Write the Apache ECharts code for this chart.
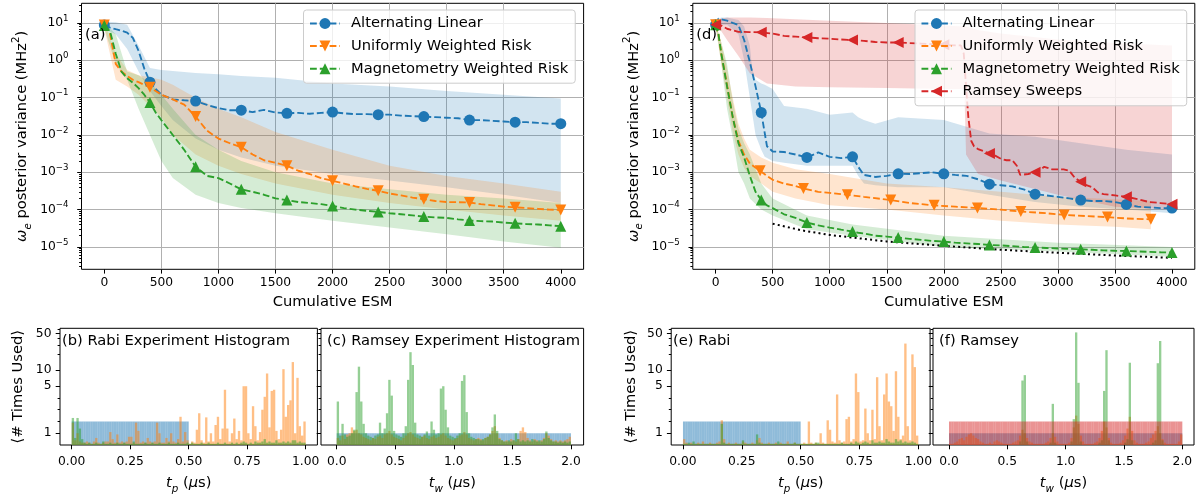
<!DOCTYPE html>
<html><head><meta charset="utf-8">
<script src="https://cdn.jsdelivr.net/npm/echarts@6/dist/echarts.min.js"></script>
<style>html,body{margin:0;padding:0;background:#fff}#c{width:1204px;height:499px}</style>
</head><body><div id="c"></div>
<script>
// ================= DATA =================
// ---- panel (a) ----
const esmA = [0,50,100,150,200,250,300,350,400,450,500,600,700,800,900,1000,1100,1200,1300,1400,1500,1600,1700,1800,1900,2000,2100,2200,2300,2400,2500,2600,2700,2800,2900,3000,3100,3200,3300,3400,3500,3600,3700,3800,3900,4000];
const altLinA = [8.8,7.5,6.8,6.2,5.5,4.0,1.8,0.6,0.26,0.17,0.12,0.09,0.085,0.081,0.064,0.052,0.046,0.046,0.041,0.047,0.040,0.038,0.039,0.037,0.039,0.041,0.038,0.036,0.036,0.035,0.035,0.033,0.032,0.031,0.030,0.029,0.028,0.025,0.025,0.024,0.023,0.022,0.022,0.021,0.020,0.020];
const uniA = [8.8,5,0.8,0.5,0.38,0.3,0.26,0.22,0.19,0.15,0.12,0.09,0.065,0.031,0.013,0.008,0.006,0.0047,0.003,0.0021,0.0018,0.0015,0.0011,0.0009,0.0007,0.00059,0.0005,0.00042,0.00036,0.00032,0.00027,0.00024,0.00021,0.00019,0.00017,0.00016,0.000158,0.000155,0.00014,0.00013,0.00012,0.000115,0.00011,0.000105,0.0001,0.000098];
const magA = [8.5,6,1.5,0.5,0.33,0.25,0.18,0.12,0.074,0.04,0.025,0.01,0.004,0.0014,0.0008,0.0007,0.0005,0.00035,0.0003,0.00025,0.0002,0.00018,0.00016,0.00015,0.00014,0.000126,0.00011,0.0001,0.000093,0.000087,0.00008,0.000075,0.00007,0.000065,0.000062,0.00006,0.000055,0.000051,0.000049,0.000048,0.000045,0.000043,0.000041,0.00004,0.000038,0.000036];
const bandEsmA = [0,100,200,300,400,500,600,800,1000,1200,1500,2000,2500,3000,3500,4000];
const altLinLoA = [7,5,2,0.5,0.15,0.06,0.025,0.008,0.004,0.0025,0.0015,0.0009,0.0006,0.0004,0.00025,0.00015];
const altLinHiA = [11,10.5,9,2.5,0.62,0.55,0.52,0.46,0.42,0.38,0.34,0.24,0.2,0.15,0.12,0.095];
const uniLoA = [7,0.3,0.2,0.12,0.06,0.03,0.01,0.003,0.0015,0.0009,0.0005,0.00025,0.00015,0.0001,0.00007,0.00005];
const uniHiA = [10,1.5,0.55,0.4,0.35,0.3,0.22,0.1,0.05,0.03,0.012,0.004,0.0015,0.0008,0.0005,0.0003];
const magLoA = [7,0.8,0.3,0.05,0.01,0.002,0.0007,0.00025,0.00015,0.00011,0.00008,0.00005,0.000033,0.000022,0.000014,0.0000095];
const magHiA = [10,5,0.5,0.4,0.25,0.12,0.05,0.01,0.004,0.002,0.001,0.0005,0.00035,0.00025,0.0002,0.00015];

// ---- panel (d) ----
const esmD = [0,25,50,100,150,200,250,300,350,400,450,500,600,700,800,900,1000,1100,1200,1250,1300,1400,1500,1600,1700,1800,1900,2000,2100,2200,2300,2400,2500,2600,2700,2800,2900,3000,3100,3200,3300,3400,3500,3600,3700,3800,3900,4000];
const altLinD = [9,13,12.5,11.5,10,8.8,3.5,0.9,0.2,0.04,0.005,0.0036,0.0035,0.003,0.0025,0.0034,0.0026,0.0024,0.0026,0.0014,0.00085,0.00075,0.0008,0.00091,0.0009,0.00095,0.001,0.00091,0.00085,0.0008,0.00065,0.00048,0.00045,0.00042,0.00035,0.00026,0.00024,0.00022,0.0002,0.00018,0.00017,0.00017,0.00016,0.000138,0.00012,0.000115,0.00011,0.00011];
const magD = [9,5,1.5,0.2,0.03,0.006,0.0025,0.0008,0.0003,0.00018,0.00013,0.00011,0.000075,0.00006,0.000045,0.000038,0.000033,0.000029,0.000026,0.000024,0.000023,0.00002,0.000019,0.0000178,0.0000165,0.0000155,0.0000145,0.0000139,0.000013,0.0000125,0.000012,0.0000113,0.000011,0.0000105,0.00001,0.0000097,0.0000094,0.0000091,0.0000089,0.0000087,0.0000084,0.0000081,0.0000079,0.0000078,0.0000076,0.0000074,0.0000072,0.0000071];
const esmUniD = [0,25,50,100,150,200,250,300,390,450,500,600,700,770,900,1000,1155,1300,1535,1700,1915,2100,2295,2500,2675,2900,3055,3250,3435,3600,3815];
const uniD = [9,5,1.5,0.22,0.03,0.007,0.003,0.0017,0.0011,0.0008,0.00063,0.0005,0.00043,0.00037,0.0003,0.00028,0.00025,0.00022,0.00018,0.00015,0.00013,0.00012,0.00011,0.0001,0.000089,0.00008,0.000072,0.000067,0.000063,0.000058,0.000055];
const esmRamD = [0,50,100,200,300,400,500,600,700,800,900,1000,1100,1200,1300,1400,1500,1600,1700,1800,1900,2000,2100,2150,2175,2195,2215,2240,2265,2300,2400,2450,2500,2550,2600,2640,2670,2740,2800,2850,2880,2950,3000,3050,3100,3150,3200,3250,3300,3350,3400,3500,3600,3700,3800,3900,4000];
const ramseyD = [9,8.5,7,5.8,5.7,5.6,5.2,4.5,4.3,4.1,3.9,3.8,3.6,3.5,3.3,3.1,3.0,3.0,2.9,2.8,2.7,2.6,2.5,2.5,1.5,0.2,0.03,0.007,0.005,0.0042,0.0032,0.0028,0.0023,0.0021,0.0021,0.0015,0.00085,0.0009,0.001,0.0012,0.0014,0.0012,0.0012,0.0012,0.0011,0.0007,0.00056,0.00045,0.0004,0.00029,0.00026,0.00024,0.00022,0.00019,0.00016,0.00015,0.00014];
const esmAltBandD = [0,50,100,200,250,300,320,350,400,430,500,600,800,1000,1200,1250,1300,1400,1600,2000,2400,2800,3200,3600,4000];
const altLinHiD = [12,14,14,12,8,2.5,0.6,0.3,0.24,0.22,0.17,0.06,0.05,0.035,0.04,0.03,0.025,0.02,0.03,0.025,0.011,0.009,0.006,0.004,0.003];
const altLinLoD = [8,9,9,5,1.0,0.1,0.04,0.01,0.004,0.0026,0.002,0.0018,0.0015,0.0015,0.0015,0.0008,0.0005,0.00045,0.0004,0.0004,0.00025,0.00016,0.00012,0.0001,0.00008];
const esmUniBandD = [0,50,100,150,200,250,300,400,500,700,1000,1500,2000,2500,3000,3500,3815];
const uniHiD = [10,3,0.6,0.1,0.02,0.008,0.004,0.0025,0.0018,0.0012,0.0009,0.0005,0.0004,0.0003,0.00022,0.00019,0.00017];
const uniLoD = [8,0.8,0.1,0.012,0.003,0.0013,0.0008,0.0005,0.0003,0.0002,0.00013,0.0001,0.00007,0.00005,0.00004,0.000035,0.00003];
const esmMagBandD = [0,50,100,150,200,250,300,400,500,800,1200,2000,3000,4000];
const magHiD = [10,3,0.8,0.08,0.015,0.006,0.003,0.0005,0.0002,0.00007,0.00004,0.00002,0.000013,0.00001];
const magLoD = [8,0.8,0.05,0.008,0.001,0.0005,0.0002,0.0001,0.00007,0.00003,0.00002,0.00001,0.0000075,0.0000055];
const esmRamBandD = [0,50,100,200,300,450,700,1000,1500,2000,2180,2195,2300,2500,3000,3500,4000];
const ramseyHiD = [10,13,14,14,14,13.5,12.5,11.5,10,8.5,8,8,6.5,5.2,3.6,2.9,2.5];
const ramseyLoD = [8,6,3.5,1.3,0.45,0.24,0.2,0.19,0.18,0.17,0.17,0.003,0.0009,0.0006,0.00025,0.00012,0.0001];
const boundEsm = [500,750,1000,1500,2000,2500,3000,3500,4000];
const boundD = [4.2e-5,2.8e-5,2.1e-5,1.4e-5,1.07e-5,8.4e-6,7e-6,5.9e-6,5.1e-6];

const markEvery400 = [0,400,800,1200,1600,2000,2400,2800,3200,3600,4000];
const uniMarksD = [0,390,770,1155,1535,1915,2295,2675,3055,3435,3815];
const esmTicks = [0,500,1000,1500,2000,2500,3000,3500,4000];

// ---- histograms: Rabi bins of 0.01 on [0,1], Ramsey bins of 0.02 on [0,2] ----
const rabiBlueB = [2,2,2,2,2,2,2,2,2,2,2,2,2,2,2,2,2,2,2,2,2,2,2,2,2,2,2,2,2,2,2,2,2,2,2,2,2,2,2,2,2,2,2,2,2,2,2,2,2,2];
const rabiOrangeB = [1.9,0.4,1.0,0.3,0.2,0.2,0.3,0.2,0.1,0.3,0.6,0.2,0.1,0.2,0.3,0.3,1.1,0.5,0.2,0.9,0.2,0.3,0.2,0.3,0.7,0.7,0.2,1.9,1.2,0.2,0.3,0.2,0.6,0.3,0.2,0.3,1.9,1.0,0.2,0.2,0.6,0.3,1.0,0.3,0.2,0.5,2.4,0.3,1.1,0.4,
  0.1,0.3,0.2,1.3,2.7,0.4,0.2,2.35,0.3,1.0,0.3,1.7,2.4,0.5,1.4,4.7,1.4,0.3,1.0,2.25,0.5,1.2,0.4,5.0,5.0,1.0,0.5,3.3,1.6,0.4,1.1,3.0,4.1,8.7,1.5,4.6,4.7,1.2,0.5,1.3,10.5,2.4,3.4,3.8,14.3,1.0,7.2,1.6,0.8,2.0];
const rabiGreenB = [2.3,0.6,2.3,1.4,0.5,0.2,0.1,0.2,0.1,0.1,0.2,0.1,0.1,0.3,0.1,0.1,0.2,0.1,0.1,0.2,0.1,0.1,0.2,0.1,0.1,0.1,0.3,0.1,0.1,0.1,0.1,0.2,0.1,0.1,0.2,0.1,0.1,0.2,0.1,0.1,0.1,0.2,0.1,0.1,0.1,0.2,0.1,0.1,0.1,0.2,
  0.1,0.2,0.1,0.1,0.1,0.2,0.1,0.1,0.2,0.1,0.1,0.1,0.2,0.1,0.1,0.2,0.1,0.1,0.2,0.1,0.2,0.1,0.2,0.3,0.2,0.1,0.2,0.1,0.3,0.2,0.2,0.3,0.5,0.2,0.3,0.2,0.2,0.4,0.2,0.2,0.3,0.2,0.3,0.2,0.4,0.4,0.2,0.3,0.2,0.2];
const ramseyBlueC = [1,1,1,1,1,1,1,1,1,1,1,1,1,1,1,1,1,1,1,1,1,1,1,1,1,1,1,1,1,1,1,1,1,1,1,1,1,1,1,1,1,1,1,1,1,1,1,1,1,1,1,1,1,1,1,1,1,1,1,1,1,1,1,1,1,1,1,1,1,1,1,1,1,1,1,1,1,1,1,1,1,1,1,1,1,1,1,1,1,1,1,1,1,1,1,1,1,1,1,1];
const ramseyOrangeC = [0.6,0.4,0.8,0.5,0.9,1.0,1.5,1.2,1.3,1.0, 0.9,0.7,0.6,0.5,0.4,0.6,0.5,0.7,0.8,0.6, 0.9,1.0,1.2,0.9,0.7,0.6,0.5,0.4,0.6,0.8, 1.0,1.1,0.9,0.7,0.6,0.5,0.7,0.8,0.6,0.5, 0.7,0.8,0.6,0.7,0.9,1.0,0.8,0.6,0.5,0.4,
  0.5,0.6,0.8,0.9,1.1,0.9,0.6,0.5,0.4,0.5, 0.6,0.5,0.4,0.6,0.7,0.9,1.2,1.6,1.0,0.6, 0.4,0.3,0.4,0.3,0.5,0.4,0.3,0.5,1.2,1.5, 1.1,0.6,0.4,0.3,0.5,0.4,0.3,0.4,0.6,1.0, 0.8,0.5,0.3,0.4,0.3,0.4,0.3,0.4,0.5,0.7];
const ramseyGreenC = [3.7,0.8,1.8,0.9,0.7,0.8,1.0,1.3,4.5,11.7, 3.7,1.8,1.0,0.8,0.7,0.6,0.8,0.9,1.9,1.0, 1.4,2.7,6.6,4.2,1.2,0.9,0.8,0.7,1.0,1.6, 6.6,22,12.6,1.9,0.9,0.8,0.7,0.9,1.15,0.8, 2.0,1.3,0.9,1.0,4.8,5.0,3.0,1.5,0.8,0.7,
  0.6,0.8,1.0,6.3,8.1,2.8,1.0,0.7,0.6,0.5, 0.5,0.4,0.5,0.6,0.7,0.9,1.5,2.6,1.2,0.5, 0.4,0.3,0.3,0.4,0.3,0.4,1.0,0.5,0.3,0.4, 0.3,0.4,0.3,0.5,0.4,0.3,0.4,0.3,0.5,1.15, 0.6,0.4,0.3,0.3,0.2,0.3,0.2,0.3,0.2,0.3];
const rabiBlueE = [2,2,2,2,2,2,2,2,2,2,2,2,2,2,2,2,2,2,2,2,2,2,2,2,2,2,2,2,2,2,2,2,2,2,2,2,2,2,2,2,2,2,2,2,2,2,2,2,2,2];
const rabiOrangeE = [0.5,0.2,0.1,0.2,0.1,0.1,0.2,0.1,0.3,0.1, 0.1,0.2,0.1,0.1,0.2,0.3,2.1,0.5,0.1,0.2, 0.1,0.1,0.2,0.1,0.1,0.3,0.2,0.1,0.1,0.2, 0.1,0.4,0.6,0.2,0.1,0.1,0.2,0.1,0.1,0.2, 0.1,0.2,0.1,0.1,0.3,0.1,0.1,0.2,0.1,0.1,
  0.1,0.2,0.1,2.0,0.2,0.1,0.2,0.1,1.0,0.2, 0.1,2.1,1.3,0.3,0.2,4.3,0.4,0.2,0.3,2.2, 2.4,0.3,0.5,8.7,4.5,0.3,0.4,3.1,1.0,0.4, 3.0,0.5,7.4,1.6,0.4,4.3,8.7,3.7,3.3,1.2, 9.6,2.4,0.5,0.8,32,1.6,0.4,20,11.5,0.8];
const rabiGreenE = [0.1,0.1,0.2,0.1,0.3,0.1,0.1,0.1,0.1,0.1, 0.1,0.1,0.1,0.1,0.1,0.1,1.8,0.2,0.1,0.1, 0.1,0.1,0.1,0.1,0.1,0.4,0.1,0.1,0.1,0.1, 0.1,0.9,0.2,0.1,0.1,0.1,0.1,0.1,0.1,0.1, 0.3,0.1,0.1,0.1,0.1,0.1,0.1,0.2,0.1,0.1,
  0.1,0.1,0.1,0.1,0.1,0.1,0.2,0.2,0.1,0.1, 0.1,0.1,0.1,0.1,0.1,0.1,0.1,0.2,0.1,0.1, 0.1,0.2,0.1,0.3,0.2,0.1,0.2,0.3,0.2,0.1, 0.4,0.2,0.2,0.3,0.2,0.2,0.5,0.3,0.2,0.2, 0.5,0.3,0.4,0.2,0.3,0.2,0.2,0.3,0.2,0.1];
const ramseyBlueF = [1,1,1,1,1,1,1,1,1,1,1,1,1,1,1,1,1,1,1,1,1,1,1,1,1,1,1,1,1,1,1,1,1,1,1,1,1,1,1,1,1,1,1,1,1,1,1,1,1,1,1,1,1,1,1,1,1,1,1,1,1,1,1,1,1,1,1,1,1,1,1,1,1,1,1,1,1,1,1,1,1,1,1,1,1,1,1,1,1,1,1,1,1,1,1,1,1,1,1,1];
const ramseyOrangeF = [0.1,0.1,0.2,0.3,0.5,0.6,0.4,0.7,0.9,1.0, 0.8,0.6,0.5,0.3,0.2,0.1,0.1,0.2,0.1,0.3, 0.4,0.3,0.2,0.1,0.1,0.1,0.1,0.2,0.3,0.4, 0.8,1.3,1.0,0.6,0.3,0.2,0.1,0.1,0.1,0.1, 0.1,0.2,0.3,0.6,1.0,0.7,0.3,0.1,0.1,0.1,
  0.1,0.2,0.6,1.5,2.5,1.8,0.8,0.3,0.1,0.1, 0.1,0.1,0.2,0.3,0.6,1.2,2.0,1.5,0.6,0.2, 0.1,0.1,0.1,0.2,0.4,0.8,1.4,2.4,1.2,0.4, 0.2,0.1,0.1,0.1,0.2,0.3,0.6,0.9,1.2,1.6, 1.0,0.5,0.2,0.1,0.1,0.1,0.1,0.1,0.3,0.9];
const ramseyGreenF = [0,0,0,0,0,0,0,0,0,0, 0,0,0,0,0,0,0,0,0,0, 0,0,0,0,0,0,0,0,0,0, 0.3,6.4,8.1,0.3,0,0,0,0,0,0, 0,0,0,0.2,3.5,0.2,0,0,0,0,
  0,0,0.3,2.2,52,5.8,0.3,0,0,0, 0,0,0,0,0.2,0.4,4.6,24,0.4,0, 0,0,0,0,0,0.2,0.5,13.9,0.4,0, 0,0,0,0,0,0,0,0.2,0.4,13.6, 35.8,0.4,0,0,0,0,0,0,0,0];
const ramseyRedF = [2,2,2,2,2,2,2,2,2,2,2,2,2,2,2,2,2,2,2,2,2,2,2,2,2,2,2,2,2,2,2,2,2,2,2,2,2,2,2,2,2,2,2,2,2,2,2,2,2,2,2,2,2,2,2,2,2,2,2,2,2,2,2,2,2,2,2,2,2,2,2,2,2,2,2,2,2,2,2,2,2,2,2,2,2,2,2,2,2,2,2,2,2,2,2,2,2,2,2,2];

// ================= STYLE / HELPERS =================
const F = 'DejaVu Sans';
const C0 = '#1f77b4', C1 = '#ff7f0e', C2 = '#2ca02c', C3 = '#d62728';
const TK = 12.3, LB = 14.7;
const YMIN = 2.52e-6, YMAX = 33.65;
const LMIN = Math.log10(YMIN), LMAX = Math.log10(YMAX);
const majorLog = [-5,-4,-3,-2,-1,0,1];
const minorLog = [];
for (let e = -6; e <= 1; e++) for (let k = 2; k <= 9; k++) { const v = Math.log10(k) + e; if (v > LMIN && v < LMAX) minorLog.push(v); }
// symlog (linthresh 5, linscale 1) for histogram count axes
const LT = 5, LS = 1 / (1 - 1 / 10);
const symlog = v => v <= LT ? v / LT * LS : LS + Math.log10(v / LT);
const symexp = t => t <= LS ? t / LS * LT : LT * Math.pow(10, t - LS);
const HMAX = symlog(62.2);
const hMajor = [1,5,10,50].map(symlog);
const hMinor = [2,3,4,20,30,40,60].map(symlog);

const noLine = {show: false, onZero: false};
const tickLine = {color: '#000', width: 1};
const gridLine = {show: true, showMinLine: false, showMaxLine: false, lineStyle: {color: '#b0b0b0', width: 1}};
const txt = {fontFamily: F, color: '#000'};
const nameRich = {
  n: {fontFamily: F, fontSize: LB, color: '#000', lineHeight: 22},
  i: {fontFamily: F, fontSize: LB, color: '#000', lineHeight: 22, fontStyle: 'italic'},
  sb: {fontFamily: F, fontSize: 10.3, color: '#000', lineHeight: 10.3, verticalAlign: 'bottom', fontStyle: 'italic'},
  sp: {fontFamily: F, fontSize: 10.3, color: '#000', lineHeight: 10.3, verticalAlign: 'top'}
};
const powRich = {
  b: {fontFamily: F, fontSize: TK, color: '#000', lineHeight: 18},
  s: {fontFamily: F, fontSize: 8.6, color: '#000', lineHeight: 8.6, verticalAlign: 'top'}
};

const grids = [
  {left: 81.5, top: 3.3, width: 502.1, height: 266},   // (a)
  {left: 692.8, top: 3.3, width: 502, height: 266},    // (d)
  {left: 60, top: 328.3, width: 257.4, height: 116.7}, // (b)
  {left: 321, top: 328.3, width: 262.6, height: 116.7},// (c)
  {left: 671.2, top: 328.3, width: 258.9, height: 116.7}, // (e)
  {left: 933, top: 328.3, width: 261, height: 116.7}   // (f)
].map(g => Object.assign(g, {show: true, borderColor: '#000', borderWidth: 1, backgroundColor: 'transparent', containLabel: false, outerBoundsMode: 'none'}));

function topX(gi) {
  return {type: 'value', gridIndex: gi, min: -200, max: 4200, splitNumber: 9,
    name: 'Cumulative ESM', nameLocation: 'middle', nameGap: 24,
    nameTextStyle: Object.assign({fontSize: LB}, txt),
    axisLine: noLine,
    axisTick: {show: true, length: 4.3, lineStyle: tickLine, customValues: esmTicks},
    axisLabel: Object.assign({fontSize: TK, margin: 8, customValues: esmTicks, formatter: v => String(Math.round(v))}, txt),
    splitLine: gridLine};
}
function topYLog(gi) {
  return {type: 'log', logBase: 10, gridIndex: gi, min: YMIN, max: YMAX, splitNumber: 7,
    axisLine: noLine, axisTick: {show: false}, axisLabel: {show: false}, splitLine: gridLine};
}
function topYLab(gi) {
  return {type: 'value', gridIndex: gi, min: LMIN, max: LMAX, position: 'left', offset: 0,
    name: '{i|ω}{sb|e}{n| posterior variance (MHz}{sp|2}{n|)}', nameLocation: 'middle', nameGap: 48,
    nameTextStyle: {fontFamily: F, fontSize: LB, color: '#000', rich: nameRich},
    axisLine: noLine,
    axisTick: {show: true, length: 4.3, lineStyle: tickLine, customValues: majorLog},
    axisLabel: {customValues: majorLog, margin: 13, rich: powRich,
      formatter: v => { const e = Math.round(v); return '{b|10}{s|' + (e < 0 ? '\u2212' + (-e) : e) + '}'; }},
    splitLine: {show: false}};
}
function minorY(gi, lo, hi, vals) {
  return {type: 'value', gridIndex: gi, min: lo, max: hi, position: 'left', offset: 0,
    axisLine: noLine, axisTick: {show: true, length: 2.4, lineStyle: tickLine, customValues: vals},
    axisLabel: {show: false}, splitLine: {show: false}};
}
function histX(gi, lo, hi, ticks, dec, sub) {
  return {type: 'value', gridIndex: gi, min: lo, max: hi,
    name: '{i|t}{sb|' + sub + '}{n| (}{i|μ}{n|s)}', nameLocation: 'middle', nameGap: 27,
    nameTextStyle: {fontFamily: F, fontSize: LB, color: '#000', rich: nameRich},
    axisLine: noLine,
    axisTick: {show: true, length: 4.3, lineStyle: tickLine, customValues: ticks},
    axisLabel: Object.assign({fontSize: TK, margin: 11, customValues: ticks, formatter: v => v.toFixed(dec)}, txt),
    splitLine: {show: false}};
}
function histY(gi, labels) {
  return {type: 'value', gridIndex: gi, min: 0, max: HMAX, position: 'left', offset: 0,
    name: labels ? '⟨# Times Used⟩' : '', nameLocation: 'middle', nameGap: 34,
    nameTextStyle: Object.assign({fontSize: LB}, txt),
    axisLine: noLine,
    axisTick: {show: true, length: 4.3, lineStyle: tickLine, customValues: hMajor},
    axisLabel: Object.assign({show: labels, fontSize: TK, margin: 8.5, customValues: hMajor,
      formatter: v => String(Math.round(symexp(v)))}, txt),
    splitLine: {show: false}};
}

const xAxis = [topX(0), topX(1),
  histX(2, -0.05, 1.05, [0, 0.25, 0.5, 0.75, 1], 2, 'p'),
  histX(3, -0.134, 2.108, [0, 0.5, 1, 1.5, 2], 1, 'w'),
  histX(4, -0.05, 1.05, [0, 0.25, 0.5, 0.75, 1], 2, 'p'),
  histX(5, -0.137, 2.1, [0, 0.5, 1, 1.5, 2], 1, 'w')];
const yAxis = [topYLog(0), topYLab(0), minorY(0, LMIN, LMAX, minorLog),
  topYLog(1), topYLab(1), minorY(1, LMIN, LMAX, minorLog),
  histY(2, true), minorY(2, 0, HMAX, hMinor),
  histY(3, false), minorY(3, 0, HMAX, hMinor),
  histY(4, true), minorY(4, 0, HMAX, hMinor),
  histY(5, false), minorY(5, 0, HMAX, hMinor)];
yAxis[10].nameGap = 33;

function band(xs, lo, hi, color, xi, yi) {
  return {type: 'custom', xAxisIndex: xi, yAxisIndex: yi, silent: true, z: 1, clip: true,
    data: xs.map((x, i) => [x, lo[i], hi[i]]), encode: {x: 0, y: [1, 2]},
    renderItem: (params, api) => {
      if (params.dataIndex !== 0) return null;
      const pts = [];
      for (let i = 0; i < xs.length; i++) pts.push(api.coord([xs[i], hi[i]]));
      for (let i = xs.length - 1; i >= 0; i--) pts.push(api.coord([xs[i], lo[i]]));
      return {type: 'polygon', shape: {points: pts}, style: {fill: color, opacity: 0.2}};
    }};
}
function line(name, xs, ys, color, symbol, rot, marks, xi, yi) {
  const set = new Set(marks);
  return {type: 'line', name, xAxisIndex: xi, yAxisIndex: yi, z: 3,
    data: xs.map((x, i) => [x, ys[i]]), symbol, symbolRotate: rot, showSymbol: true,
    symbolSize: v => set.has(v[0]) ? 11 : 0,
    lineStyle: {color, width: 1.85, type: [6.8, 3]}, itemStyle: {color},
    emphasis: {disabled: true}, animation: false};
}
function hist(vals, w, color, xi, yi) {
  return {type: 'custom', xAxisIndex: xi, yAxisIndex: yi, silent: true, z: 2,
    data: vals.map((v, i) => [i * w, (i + 1) * w, v]), encode: {x: [0, 1], y: 2},
    renderItem: (params, api) => {
      const v = api.value(2);
      if (!(v > 0)) return null;
      const a = api.coord([api.value(0), 0]);
      const b = api.coord([api.value(1), symlog(v)]);
      return {type: 'rect', shape: {x: a[0], y: b[1], width: b[0] - a[0], height: a[1] - b[1]},
        style: {fill: color, opacity: 0.5}};
    }};
}

const series = [
  // (a)
  band(bandEsmA, altLinLoA, altLinHiA, C0, 0, 0),
  band(bandEsmA, uniLoA, uniHiA, C1, 0, 0),
  band(bandEsmA, magLoA, magHiA, C2, 0, 0),
  line('Alternating Linear', esmA, altLinA, C0, 'circle', 0, markEvery400, 0, 0),
  line('Uniformly Weighted Risk', esmA, uniA, C1, 'triangle', 180, markEvery400, 0, 0),
  line('Magnetometry Weighted Risk', esmA, magA, C2, 'triangle', 0, markEvery400, 0, 0),
  // (d)
  band(esmAltBandD, altLinLoD, altLinHiD, C0, 1, 3),
  band(esmUniBandD, uniLoD, uniHiD, C1, 1, 3),
  band(esmMagBandD, magLoD, magHiD, C2, 1, 3),
  band(esmRamBandD, ramseyLoD, ramseyHiD, C3, 1, 3),
  line('Alternating Linear', esmD, altLinD, C0, 'circle', 0, markEvery400, 1, 3),
  line('Uniformly Weighted Risk', esmUniD, uniD, C1, 'triangle', 180, uniMarksD, 1, 3),
  line('Magnetometry Weighted Risk', esmD, magD, C2, 'triangle', 0, markEvery400, 1, 3),
  line('Ramsey Sweeps', esmRamD, ramseyD, C3, 'triangle', 90, markEvery400, 1, 3),
  {type: 'line', xAxisIndex: 1, yAxisIndex: 3, z: 3, data: boundEsm.map((x, i) => [x, boundD[i]]),
    symbol: 'none', lineStyle: {color: '#000', width: 2, type: [2, 3.2]}, silent: true, animation: false},
  // (b)
  hist(rabiBlueB, 0.01, C0, 2, 6), hist(rabiOrangeB, 0.01, C1, 2, 6), hist(rabiGreenB, 0.01, C2, 2, 6),
  // (c)
  hist(ramseyBlueC, 0.02, C0, 3, 8), hist(ramseyOrangeC, 0.02, C1, 3, 8), hist(ramseyGreenC, 0.02, C2, 3, 8),
  // (e)
  hist(rabiBlueE, 0.01, C0, 4, 10), hist(rabiOrangeE, 0.01, C1, 4, 10), hist(rabiGreenE, 0.01, C2, 4, 10),
  // (f)
  hist(ramseyBlueF, 0.02, C0, 5, 12), hist(ramseyOrangeF, 0.02, C1, 5, 12), hist(ramseyGreenF, 0.02, C2, 5, 12), hist(ramseyRedF, 0.02, C3, 5, 12)
];

const legendBase = {orient: 'vertical', itemWidth: 30, itemHeight: 13.7, itemGap: 7.6,
  padding: [6, 7, 7, 5.5], backgroundColor: 'rgba(255,255,255,0.8)', borderColor: '#cccccc',
  borderWidth: 1, borderRadius: 3, selectedMode: false, z: 10,
  textStyle: {fontFamily: F, fontSize: LB, color: '#000', padding: [0, 0, 0, 6]}};
const legend = [
  Object.assign({left: 303.5, top: 10, data: ['Alternating Linear', 'Uniformly Weighted Risk', 'Magnetometry Weighted Risk']}, legendBase),
  Object.assign({left: 915, top: 10, data: ['Alternating Linear', 'Uniformly Weighted Risk', 'Magnetometry Weighted Risk', 'Ramsey Sweeps']}, legendBase)
];

const lbl = (text, x, y) => ({type: 'text', x, y, z: 100, silent: true,
  style: {text, fontFamily: F, fontSize: LB, fill: '#000', verticalAlign: 'middle', align: 'left'}});

const option = {
  animation: false,
  textStyle: {fontFamily: F},
  grid: grids, xAxis, yAxis, series, legend,
  graphic: [lbl('(a)', 85, 35), lbl('(d)', 696.3, 35),
    lbl('(b) Rabi Experiment Histogram', 62, 340.7), lbl('(c) Ramsey Experiment Histogram', 327, 340.7),
    lbl('(e) Rabi', 673, 340.7), lbl('(f) Ramsey', 939, 340.7)]
};
const chart = echarts.init(document.getElementById('c'), null, {renderer: 'canvas', width: 1204, height: 499});
chart.setOption(option);
</script></body></html>
